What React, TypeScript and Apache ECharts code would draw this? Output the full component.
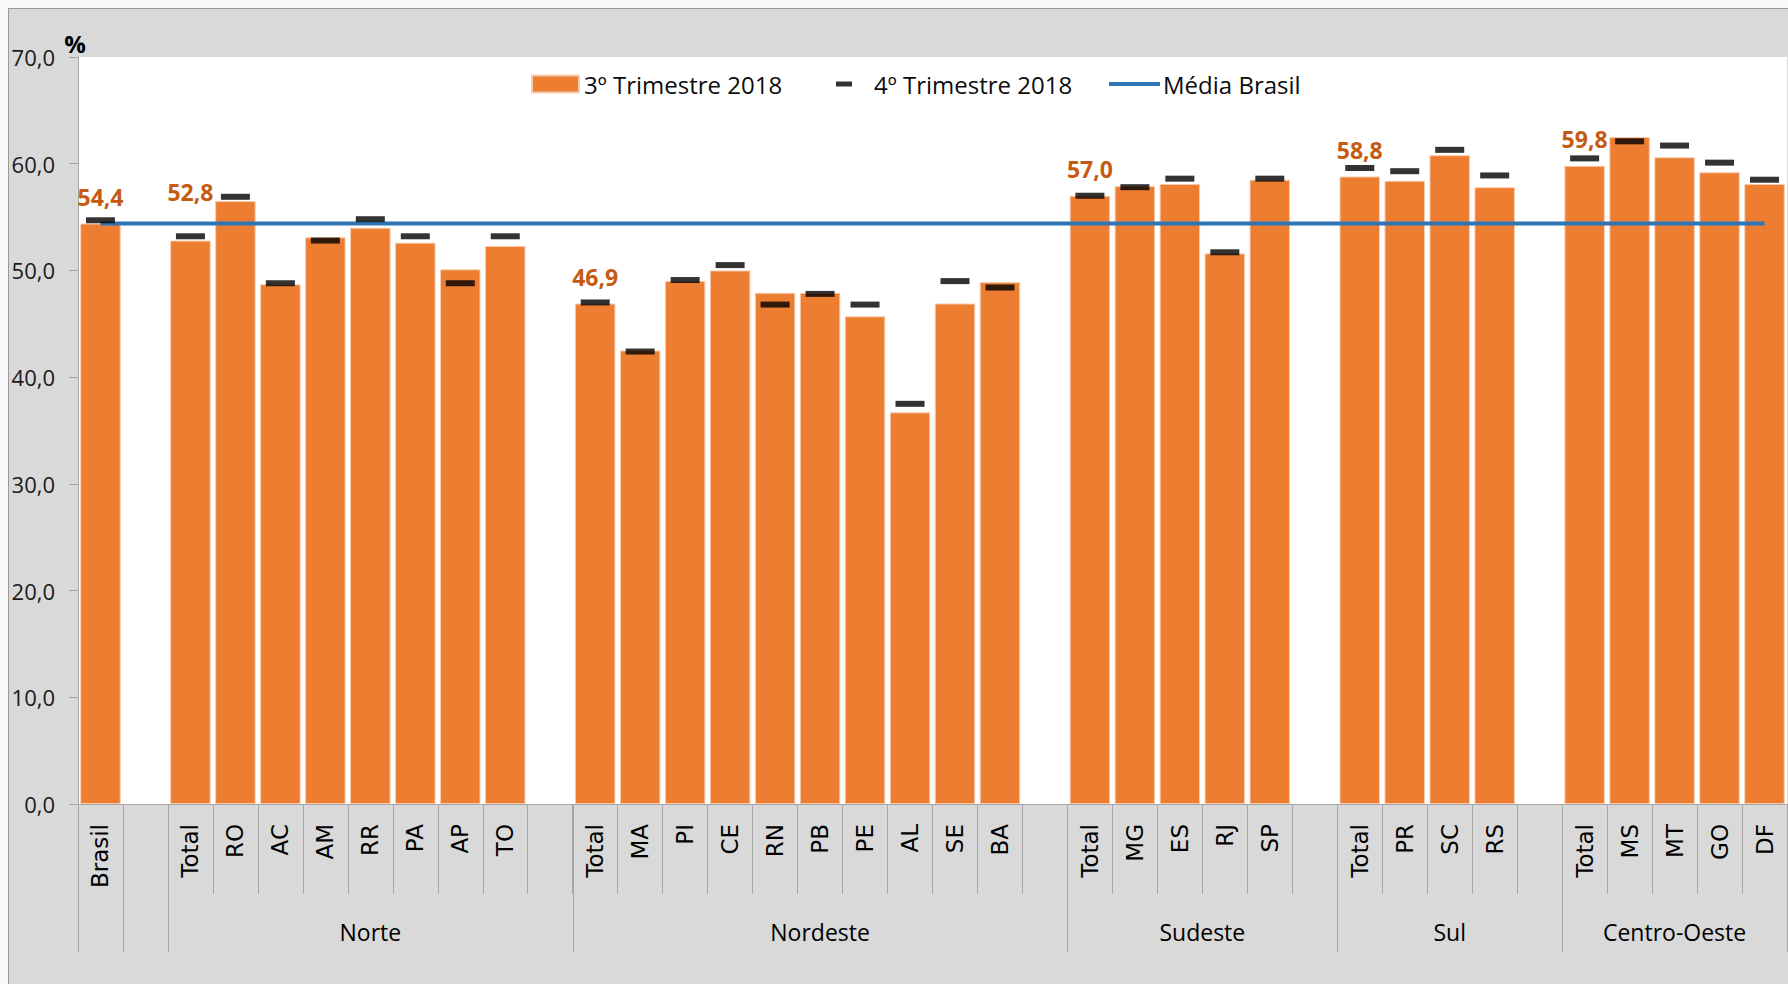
import React, { useEffect, useRef } from 'react';
import * as echarts from 'echarts';

// ---- Data (taxa, %) ----
const BRASIL_3T = 54.4;
const BRASIL_4T = 54.7;
const MEDIA_BRASIL = 54.4;

const NORTE_UF = ['Total', 'RO', 'AC', 'AM', 'RR', 'PA', 'AP', 'TO'];
const NORTE_3T = [52.8, 56.5, 48.7, 53.1, 54.0, 52.6, 50.1, 52.3];
const NORTE_4T = [53.2, 56.9, 48.8, 52.8, 54.8, 53.2, 48.8, 53.2];

const NORDESTE_UF = ['Total', 'MA', 'PI', 'CE', 'RN', 'PB', 'PE', 'AL', 'SE', 'BA'];
const NORDESTE_3T = [46.9, 42.5, 49.0, 50.0, 47.9, 47.9, 45.7, 36.7, 46.9, 48.9];
const NORDESTE_4T = [47.0, 42.4, 49.1, 50.5, 46.8, 47.8, 46.8, 37.5, 49.0, 48.4];

const SUDESTE_UF = ['Total', 'MG', 'ES', 'RJ', 'SP'];
const SUDESTE_3T = [57.0, 57.9, 58.1, 51.6, 58.5];
const SUDESTE_4T = [57.0, 57.8, 58.6, 51.7, 58.6];

const SUL_UF = ['Total', 'PR', 'SC', 'RS'];
const SUL_3T = [58.8, 58.4, 60.8, 57.8];
const SUL_4T = [59.6, 59.3, 61.3, 58.9];

const CO_UF = ['Total', 'MS', 'MT', 'GO', 'DF'];
const CO_3T = [59.8, 62.5, 60.6, 59.2, 58.1];
const CO_4T = [60.5, 62.1, 61.7, 60.1, 58.5];

const SERIES_NAMES = ['3º Trimestre 2018', '4º Trimestre 2018', 'Média Brasil'];
const Y_MIN = 0;
const Y_MAX = 70;
const Y_INTERVAL = 10;

const REGIONS = [
  { name: 'Norte', uf: NORTE_UF, v3: NORTE_3T, v4: NORTE_4T },
  { name: 'Nordeste', uf: NORDESTE_UF, v3: NORDESTE_3T, v4: NORDESTE_4T },
  { name: 'Sudeste', uf: SUDESTE_UF, v3: SUDESTE_3T, v4: SUDESTE_4T },
  { name: 'Sul', uf: SUL_UF, v3: SUL_3T, v4: SUL_4T },
  { name: 'Centro-Oeste', uf: CO_UF, v3: CO_3T, v4: CO_4T },
];

// style: extra lift of some total labels
const LABEL_DISTANCE: Record<string, number> = { Norte: 37 };

const ORANGE = '#ED7D31';
const LABEL_ORANGE = '#C55A11';
const BLUE = '#2E75B6';
const AXIS_GRAY = '#a6a6a6';

function fmt(v: number) {
  return v.toFixed(1).replace('.', ',');
}

function build() {
  const categories: string[] = ['Brasil', ''];
  const bar: any[] = [
    { value: BRASIL_3T, label: { show: true, distance: 15 } },
    null,
  ];
  const dash: any[] = [BRASIL_4T, '-'];
  const groups: { name: string; start: number; end: number }[] = [
    { name: '', start: 0, end: 1 },
    { name: '', start: 1, end: 2 },
  ];
  REGIONS.forEach((r, ri) => {
    const start = categories.length;
    r.uf.forEach((u, i) => {
      categories.push(u);
      if (u === 'Total') {
        bar.push({
          value: r.v3[i],
          label: { show: true, distance: LABEL_DISTANCE[r.name] ?? 15 },
        });
      } else {
        bar.push(r.v3[i]);
      }
      dash.push(r.v4[i]);
    });
    if (ri < REGIONS.length - 1) {
      categories.push('');
      bar.push(null);
      dash.push('-');
    }
    groups.push({ name: r.name, start, end: categories.length });
  });
  const media = categories.map(() => MEDIA_BRASIL);
  return { categories, bar, dash, media, groups };
}

export default function App() {
  const ref = useRef<HTMLDivElement>(null);

  useEffect(() => {
    if (!ref.current) return;
    const chart = echarts.init(ref.current, null, { renderer: 'svg' });
    const { categories, bar, dash, media, groups } = build();

    const legendText = { fontFamily: 'Open Sans', fontSize: 24, color: '#0d0d0d' };

    const option: any = {
      animation: false,
      backgroundColor: '#d9d9d9',
      grid: {
        left: 69,
        right: 1,
        top: 48,
        bottom: 180,
        show: true,
        backgroundColor: '#ffffff',
        borderWidth: 0,
        containLabel: false,
        outerBoundsMode: 'none',
      },
      legend: [
        {
          data: [SERIES_NAMES[0]],
          left: 517,
          top: 58,
          itemWidth: 47,
          itemHeight: 17,
          icon: 'rect',
          selectedMode: false,
          textStyle: legendText,
        },
        {
          data: [SERIES_NAMES[1]],
          left: 822,
          top: 58,
          itemWidth: 16,
          itemHeight: 5,
          icon: 'rect',
          selectedMode: false,
          textStyle: { ...legendText, padding: [0, 0, 0, 17] },
        },
        {
          data: [SERIES_NAMES[2]],
          left: 1095,
          top: 58,
          itemWidth: 51,
          itemHeight: 4,
          icon: 'rect',
          selectedMode: false,
          textStyle: { ...legendText, padding: [0, 0, 0, -2] },
        },
      ],
      xAxis: {
        type: 'category',
        data: categories,
        axisLine: { show: true, lineStyle: { color: AXIS_GRAY, width: 1 } },
        axisTick: {
          show: true,
          interval: 0,
          length: 90,
          alignWithLabel: false,
          lineStyle: { color: AXIS_GRAY, width: 1 },
        },
        axisLabel: {
          interval: 0,
          rotate: 90,
          margin: 20,
          fontFamily: 'DejaVu Sans',
          fontSize: 23,
          color: '#000',
        },
        splitLine: { show: false },
      },
      yAxis: {
        type: 'value',
        min: Y_MIN,
        max: Y_MAX,
        interval: Y_INTERVAL,
        name: '%',
        nameLocation: 'end',
        nameGap: 2,
        nameTextStyle: {
          fontFamily: 'Open Sans',
          fontWeight: 'bold',
          fontSize: 24,
          color: '#000',
          align: 'center',
          padding: [0, 6, 0, 0],
        },
        axisLine: { show: true, lineStyle: { color: AXIS_GRAY, width: 1 } },
        axisTick: { show: true, length: 9, lineStyle: { color: AXIS_GRAY } },
        axisLabel: {
          margin: 23,
          fontFamily: 'Open Sans',
          fontSize: 22,
          color: '#1a1a1a',
          formatter: (v: number) => fmt(v),
        },
        splitLine: { show: false },
      },
      series: [
        {
          name: SERIES_NAMES[0],
          type: 'bar',
          data: bar,
          barCategoryGap: '10%',
          z: 2,
          itemStyle: { color: ORANGE, borderColor: '#F8CBAD', borderWidth: 1 },
          label: {
            show: false,
            position: 'top',
            fontFamily: 'Open Sans',
            fontWeight: 'bold',
            fontSize: 23,
            color: LABEL_ORANGE,
            formatter: (p: any) => fmt(Number(p.value)),
          },
        },
        {
          name: SERIES_NAMES[2],
          type: 'line',
          data: media,
          symbol: 'none',
          z: 3,
          itemStyle: { color: BLUE },
          lineStyle: { color: BLUE, width: 4 },
        },
        {
          name: SERIES_NAMES[1],
          type: 'scatter',
          data: dash,
          symbol: 'rect',
          symbolSize: [29, 6],
          z: 4,
          itemStyle: { color: '#000' },
        },
      ],
    };

    chart.setOption(option);

    const px = (i: number) => chart.convertToPixel({ xAxisIndex: 0 }, i) as number;
    const bw = px(1) - px(0);
    const bx = (b: number) => px(0) - bw / 2 + b * bw;
    const y0 = chart.convertToPixel({ yAxisIndex: 0 }, 0) as number;

    const boundaries = new Set<number>();
    groups.forEach((g) => {
      boundaries.add(g.start);
      boundaries.add(g.end);
    });
    const elements: any[] = [];
    Array.from(boundaries).forEach((b) => {
      const x = Math.round(bx(b)) + 0.5;
      elements.push({
        type: 'line',
        shape: { x1: x, y1: y0, x2: x, y2: y0 + 148 },
        style: { stroke: AXIS_GRAY, lineWidth: 1 },
        silent: true,
      });
    });
    groups.forEach((g) => {
      if (!g.name) return;
      elements.push({
        type: 'text',
        x: (bx(g.start) + bx(g.end)) / 2,
        y: y0 + 128,
        style: {
          text: g.name,
          fontFamily: 'Open Sans',
          fontSize: 23,
          fill: '#000',
          align: 'center',
          verticalAlign: 'middle',
        },
        silent: true,
      });
    });
    chart.setOption({ graphic: elements });

    return () => chart.dispose();
  }, []);

  return (
    <div
      style={{
        position: 'absolute',
        left: 0,
        top: 0,
        width: 1788,
        height: 984,
        background: '#f8f8f8',
        overflow: 'hidden',
      }}
    >
      <div
        style={{
          position: 'absolute',
          left: 8,
          top: 8,
          width: 1780,
          height: 976,
          boxSizing: 'border-box',
          borderTop: '1px solid #9a9a9a',
          borderLeft: '1px solid #9a9a9a',
          background: '#d9d9d9',
        }}
      >
        <div ref={ref} style={{ width: 1779, height: 975 }} />
      </div>
    </div>
  );
}
